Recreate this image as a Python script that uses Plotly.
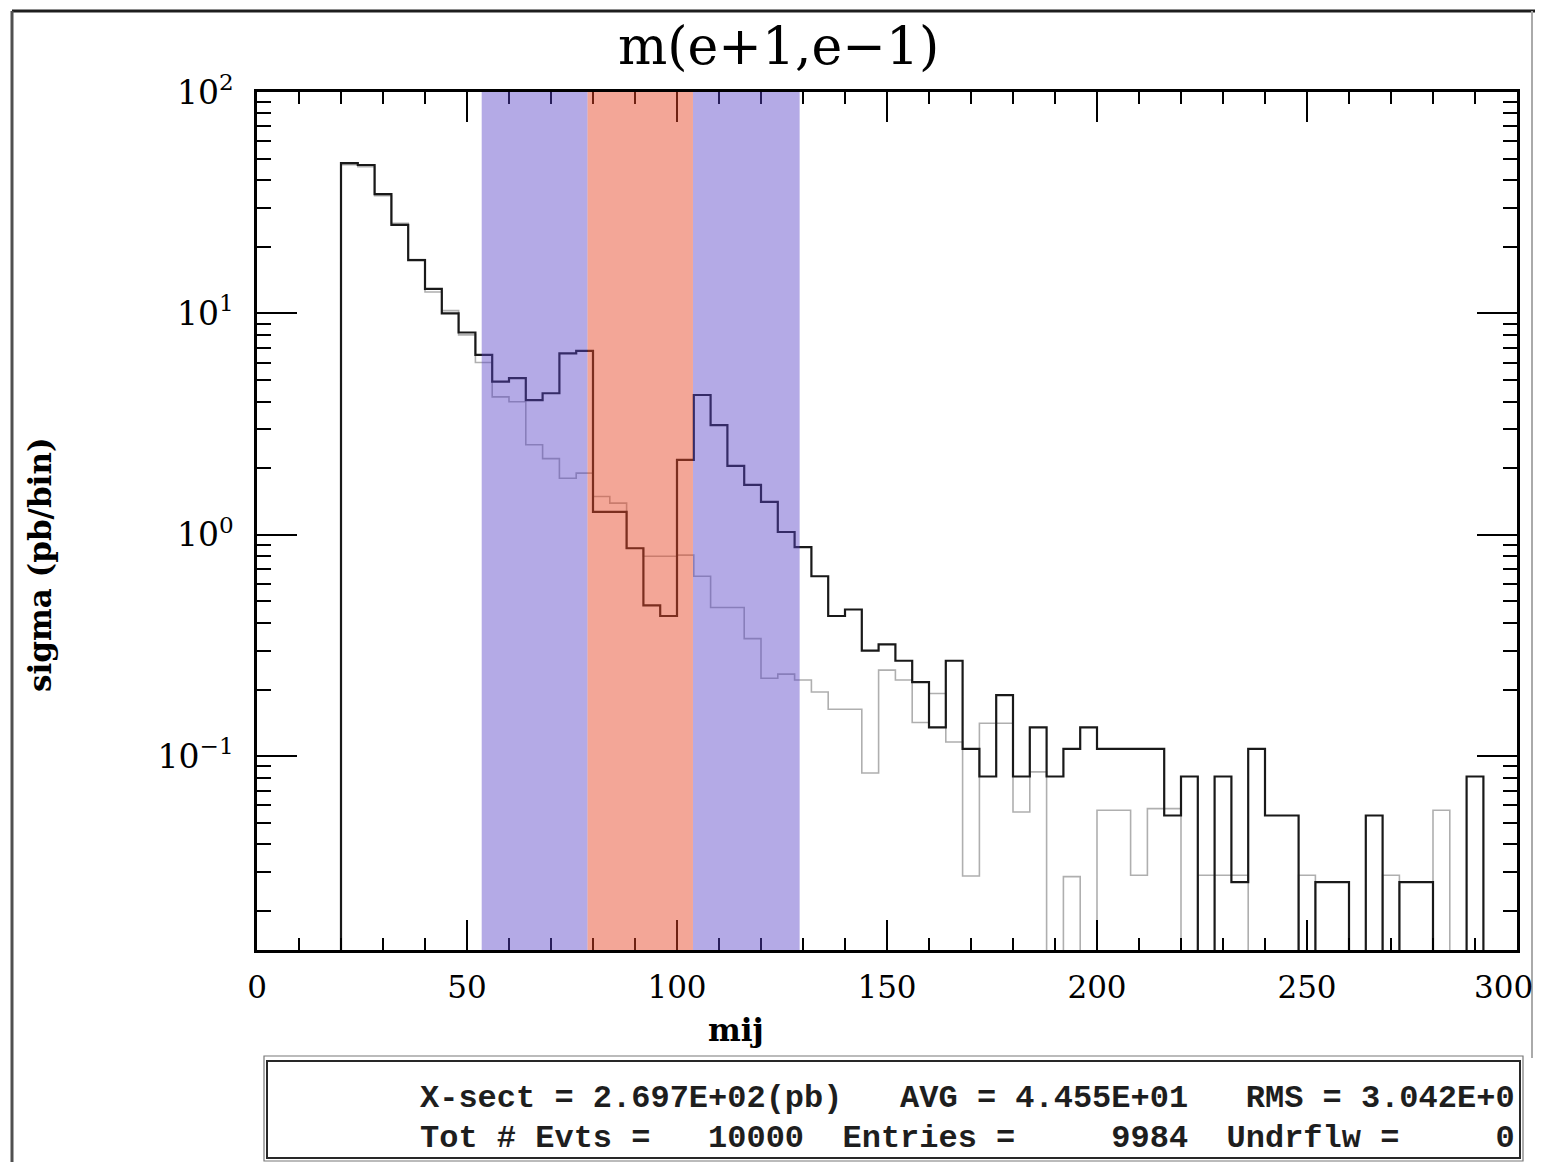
import plotly.graph_objects as go

# ---------------- data ----------------
bin_left = list(range(0, 300, 4))          # 75 bins, 4 GeV wide, 0..300
x_max = 300

black_vals = [
    0, 0, 0, 0, 0,                                   # 0-20
    47.7, 46.8, 34.6, 25.1, 17.4, 12.9, 10.0, 8.2, 6.5,   # 20-56
    4.92, 5.1, 4.06, 4.36, 6.6, 6.78,                # 56-80
    1.27, 1.27, 0.87, 0.48, 0.43, 2.18,              # 80-104
    4.28, 3.13, 2.05, 1.68, 1.41, 1.03, 0.88,        # 104-132
    0.65, 0.43, 0.46, 0.30, 0.32, 0.27, 0.216,       # 132-160
    0.135, 0.27, 0.108, 0.081, 0.189, 0.081, 0.135,  # 160-188
    0.081, 0.108, 0.135, 0.108, 0.108, 0.108, 0.108, # 188-216
    0.054, 0.081, 0, 0.081, 0.027, 0.108, 0.054,     # 216-244
    0.054, 0, 0.027, 0.027, 0, 0.054, 0,             # 244-272
    0.027, 0.027, 0, 0, 0.081, 0, 0,                 # 272-300
]

grey_vals = [
    0, 0, 0, 0, 0,
    47.0, 46.0, 34.0, 25.5, 17.5, 12.5, 10.3, 8.0, 6.0,
    4.2, 3.99, 2.55, 2.21, 1.80, 1.90,
    1.49, 1.39, 0.87, 0.80, 0.80, 0.81,
    0.65, 0.47, 0.47, 0.34, 0.225, 0.235, 0.221,
    0.195, 0.163, 0.163, 0.084, 0.245, 0.221, 0.142,
    0.192, 0.116, 0.0288, 0.141, 0.141, 0.056, 0.085,
    0, 0.0286, 0, 0.057, 0.057, 0.029, 0.058,
    0.058, 0, 0.029, 0.029, 0.029, 0, 0,
    0, 0.029, 0, 0, 0, 0, 0.029,
    0, 0, 0.057, 0, 0, 0, 0,
]

band_outer = (53.5, 129.2)   # purple window
band_inner = (78.7, 103.8)   # red window

x_tick_vals = [0, 50, 100, 150, 200, 250, 300]
x_tick_text = ["0", "50", "100", "150", "200", "250", "300"]
y_tick_vals = [100, 10, 1, 0.1]
y_tick_text = ["10<sup>2</sup>", "10<sup>1</sup>", "10<sup>0</sup>", "10<sup>\u22121</sup>"]

title_text = "m(e+1,e\u22121)"
x_title = "mij"
y_title = "sigma (pb/bin)"
stats_line1 = "X-sect = 2.697E+02(pb)   AVG = 4.455E+01   RMS = 3.042E+0"
stats_line2 = "Tot # Evts =   10000  Entries =     9984  Undrflw =     0"

assert len(black_vals) == len(bin_left) == len(grey_vals)

# ---------------- figure ----------------
W, H = 1536, 1163
L, R, T, B = 257, 1517, 92, 950
PW, PH = R - L, B - T


def px(xp):
    return (xp - L) / PW


def py(yp):
    return (B - yp) / PH


FLOOR = 1e-3  # zero bins drawn below the visible range (clipped)


def step_xy(vals):
    xs = bin_left + [x_max]
    ys = [v if v > 0 else FLOOR for v in vals]
    ys = ys + [ys[-1]]
    return xs, ys


fig = go.Figure()
gx, gy = step_xy(grey_vals)
fig.add_trace(go.Scatter(x=gx, y=gy, mode="lines", line_shape="hv",
                         line=dict(color="rgb(175,175,175)", width=1.6),
                         hoverinfo="skip", showlegend=False))
bx, by = step_xy(black_vals)
fig.add_trace(go.Scatter(x=bx, y=by, mode="lines", line_shape="hv",
                         line=dict(color="rgb(25,25,25)", width=2.2),
                         hoverinfo="skip", showlegend=False))

# coloured windows drawn over the lines: purple side bands + red central band
purple = "rgba(89,67,200,0.45)"
red = "rgba(229,69,38,0.48)"
for x0, x1 in [(band_outer[0], band_inner[0]), (band_inner[1], band_outer[1])]:
    fig.add_shape(type="rect", xref="x", yref="paper", x0=x0, x1=x1,
                  y0=0, y1=1, fillcolor=purple, line=dict(width=0), layer="above")
fig.add_shape(type="rect", xref="x", yref="paper", x0=band_inner[0], x1=band_inner[1],
              y0=0, y1=1, fillcolor=red, line=dict(width=0), layer="above")

# stats box
fig.add_shape(type="rect", xref="paper", yref="paper",
              x0=px(264), x1=px(1523), y0=py(1161), y1=py(1056),
              line=dict(color="rgb(120,120,120)", width=1.2), layer="above")
fig.add_shape(type="rect", xref="paper", yref="paper",
              x0=px(267), x1=px(1520), y0=py(1158), y1=py(1061),
              line=dict(color="rgb(40,40,40)", width=2), layer="above")

# outer image frame
fig.add_shape(type="line", xref="paper", yref="paper", x0=px(12), x1=px(1535),
              y0=py(11), y1=py(11), line=dict(color="rgb(30,30,30)", width=3))
fig.add_shape(type="line", xref="paper", yref="paper", x0=px(12), x1=px(12),
              y0=py(11), y1=py(1162), line=dict(color="rgb(80,80,80)", width=3))
fig.add_shape(type="line", xref="paper", yref="paper", x0=px(1532), x1=px(1532),
              y0=py(11), y1=py(1058), line=dict(color="rgb(170,170,170)", width=2))

serif = "DejaVu Serif"
mono = "Liberation Mono"

fig.add_annotation(text=title_text, xref="paper", yref="paper", x=px(778), y=py(46),
                   showarrow=False, font=dict(family=serif, size=52, color="black"),
                   xanchor="center", yanchor="middle")
fig.add_annotation(text="<b>" + y_title + "</b>", xref="paper", yref="paper",
                   x=px(40), y=py(565), textangle=-90, showarrow=False,
                   font=dict(family=serif, size=31, color="black"),
                   xanchor="center", yanchor="middle")
fig.add_annotation(text="<b>" + x_title + "</b>", xref="paper", yref="paper",
                   x=px(736), y=py(1030), showarrow=False,
                   font=dict(family=serif, size=31, color="black"),
                   xanchor="center", yanchor="middle")
fig.add_annotation(text="<b>" + stats_line1.replace(" ", "&nbsp;") + "</b>", xref="paper",
                   yref="paper", x=px(418), y=py(1098), showarrow=False,
                   font=dict(family=mono, size=32, color="rgb(30,30,30)"),
                   xanchor="left", yanchor="middle")
fig.add_annotation(text="<b>" + stats_line2.replace(" ", "&nbsp;") + "</b>", xref="paper",
                   yref="paper", x=px(418), y=py(1138), showarrow=False,
                   font=dict(family=mono, size=32, color="rgb(30,30,30)"),
                   xanchor="left", yanchor="middle")
# last x tick label sits on the page edge: drawn as text kept inside the page
fig.add_annotation(text=x_tick_text[-1], xref="paper", yref="paper",
                   x=px(1535), y=py(987), showarrow=False,
                   font=dict(family=serif, size=31, color="black"),
                   xanchor="right", yanchor="middle")

fig.update_xaxes(range=[0, x_max], tickvals=x_tick_vals,
                 ticktext=x_tick_text[:-1] + [""],
                 ticks="inside", ticklen=30, tickwidth=2, tickcolor="black",
                 minor=dict(ticks="inside", dtick=10, ticklen=12, tickwidth=1.5,
                            tickcolor="black"),
                 showline=True, linecolor="black", linewidth=2.5, mirror="ticks",
                 showgrid=False, zeroline=False,
                 tickfont=dict(family=serif, size=31, color="black"),
                 ticklabelstandoff=8)
fig.update_yaxes(type="log", range=[-1.875, 2], tickvals=y_tick_vals, ticktext=y_tick_text,
                 ticks="inside", ticklen=40, tickwidth=2, tickcolor="black",
                 minor=dict(ticks="inside", dtick="D1", ticklen=14, tickwidth=1.5,
                            tickcolor="black"),
                 showline=True, linecolor="black", linewidth=2.5, mirror="ticks",
                 showgrid=False, zeroline=False,
                 tickfont=dict(family=serif, size=33, color="black"),
                 ticklabelstandoff=14)

fig.update_layout(width=W, height=H, autosize=False,
                  margin=dict(l=L, r=W - R, t=T, b=H - B, pad=0),
                  paper_bgcolor="white", plot_bgcolor="white", showlegend=False)

fig.write_html(
    "out.html",
    config={"displayModeBar": False, "responsive": False},
    post_script=(
        "document.documentElement.style.margin='0px';"
        "document.documentElement.style.padding='0px';"
        "document.documentElement.style.overflow='hidden';"
        "document.body.style.margin='0px';"
        "document.body.style.padding='0px';"
        "document.body.style.overflow='hidden';"
    ),
)
